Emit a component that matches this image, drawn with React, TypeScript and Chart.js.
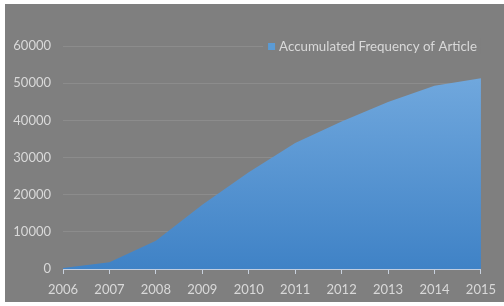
import React, { useEffect, useRef } from "react";
import { Chart, registerables } from "chart.js";

Chart.register(...registerables);

const years = ["2006", "2007", "2008", "2009", "2010", "2011", "2012", "2013", "2014", "2015"];
const accumulated = [300, 1800, 7600, 17300, 26000, 33900, 39700, 44900, 49300, 51300];
const seriesLabel = "Accumulated Frequency of Article";
const yTicks = [0, 10000, 20000, 30000, 40000, 50000, 60000];

const BG = "#7f7f7f";
const TEXT = "#d9d9d9";
const FONT = "Lato, 'Open Sans', sans-serif";

const bgPlugin = {
  id: "bgPlugin",
  beforeDraw(chart: any) {
    const ctx = chart.ctx;
    ctx.save();
    ctx.fillStyle = "#ffffff";
    ctx.fillRect(0, 0, chart.width, chart.height);
    ctx.fillStyle = BG;
    ctx.fillRect(5, 4, chart.width - 5, chart.height - 8);
    ctx.restore();
  },
};

const legendPlugin = {
  id: "legendPlugin",
  afterDraw(chart: any) {
    const ctx = chart.ctx;
    const ca = chart.chartArea;
    ctx.save();
    ctx.font = "13.3px " + FONT;
    const w = ctx.measureText(seriesLabel).width;
    const right = ca.right - 4;
    const textX = right - w;
    const y = ca.top;
    ctx.fillStyle = BG;
    ctx.fillRect(textX - 16, y - 8, w + 20, 16);
    ctx.fillStyle = "#5b9bd5";
    ctx.fillRect(textX - 11, y - 3, 7, 7);
    ctx.fillStyle = TEXT;
    ctx.textBaseline = "middle";
    ctx.fillText(seriesLabel, textX, y + 1);
    ctx.restore();
  },
};

export default function App() {
  const ref = useRef<HTMLCanvasElement>(null);
  useEffect(() => {
    const canvas = ref.current!;
    const ctx = canvas.getContext("2d")!;
    const grad = ctx.createLinearGradient(0, 70, 0, 270);
    grad.addColorStop(0, "#72a9de");
    grad.addColorStop(1, "#3f82c6");
    const chart = new Chart(canvas, {
      type: "line",
      data: {
        labels: years,
        datasets: [
          {
            label: seriesLabel,
            data: accumulated,
            fill: "origin",
            backgroundColor: grad,
            borderWidth: 0,
            borderColor: "rgba(0,0,0,0)",
            pointRadius: 0,
            tension: 0,
          },
        ],
      },
      options: {
        animation: false,
        responsive: false,
        maintainAspectRatio: false,
        layout: { padding: { left: 0, top: 46, right: 21, bottom: 0 } },
        plugins: {
          legend: { display: false },
          tooltip: { enabled: false },
        },
        scales: {
          x: {
            offset: false,
            grid: {
              display: true,
              drawOnChartArea: false,
              drawTicks: true,
              tickLength: 5,
              color: "#c9d2de",
            },
            border: { display: true, color: "#c0cde0", width: 1 },
            ticks: {
              color: TEXT,
              font: { family: FONT, size: 13 },
              padding: 8,
              maxRotation: 0,
              autoSkip: false,
            },
            afterFit(scale: any) {
              scale.height = 37;
            },
          },
          y: {
            min: 0,
            max: 60000,
            afterBuildTicks(scale: any) {
              scale.ticks = yTicks.map((v) => ({ value: v }));
            },
            grid: {
              color: "#8c8c8c",
              drawTicks: false,
              lineWidth: 1,
            },
            border: { display: false },
            ticks: {
              color: TEXT,
              font: { family: FONT, size: 13 },
              padding: 12,
              callback: (v: any) => String(v),
            },
            afterFit(scale: any) {
              scale.width = 63;
            },
          },
        },
      },
      plugins: [bgPlugin, legendPlugin],
    });
    return () => chart.destroy();
  }, []);
  return (
    <div style={{ position: "fixed", left: 0, top: 0, width: 504, height: 306, background: "#fff" }}>
      <canvas ref={ref} width={504} height={306} style={{ display: "block", width: 504, height: 306 }} />
    </div>
  );
}
